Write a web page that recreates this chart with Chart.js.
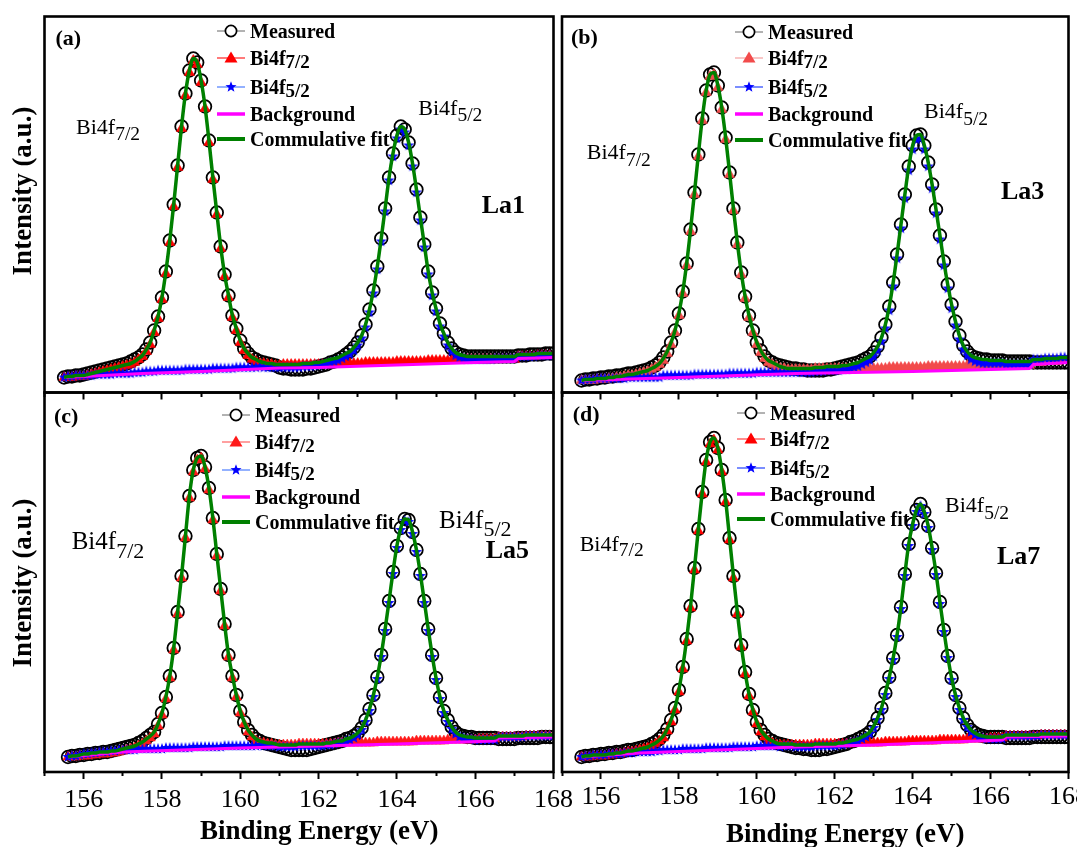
<!DOCTYPE html>
<html><head><meta charset="utf-8">
<script src="https://cdn.jsdelivr.net/npm/chart.js@4.4.1/dist/chart.umd.min.js"></script>
<style>
html,body{margin:0;padding:0;background:#fff;}
body{width:1077px;height:847px;overflow:hidden;position:relative;font-family:'Liberation Serif','Times New Roman',serif;color:#000;}
canvas{position:absolute;}
.t{position:absolute;white-space:nowrap;line-height:1;}
.b{font-weight:bold;}
.sub{position:relative;}
</style></head><body>
<canvas id="ca"></canvas><canvas id="cb"></canvas><canvas id="cc"></canvas><canvas id="cd"></canvas>
<script>
// ---------- DATA (intensity in a.u.) ----------
const energy = [155.5,155.6,155.7,155.8,155.9,
156,156.1,156.2,156.3,156.4,156.5,156.6,156.7,156.8,156.9,
157,157.1,157.2,157.3,157.4,157.5,157.6,157.7,157.8,157.9,
158,158.1,158.2,158.3,158.4,158.5,158.6,158.7,158.8,158.9,
159,159.1,159.2,159.3,159.4,159.5,159.6,159.7,159.8,159.9,
160,160.1,160.2,160.3,160.4,160.5,160.6,160.7,160.8,160.9,
161,161.1,161.2,161.3,161.4,161.5,161.6,161.7,161.8,161.9,
162,162.1,162.2,162.3,162.4,162.5,162.6,162.7,162.8,162.9,
163,163.1,163.2,163.3,163.4,163.5,163.6,163.7,163.8,163.9,
164,164.1,164.2,164.3,164.4,164.5,164.6,164.7,164.8,164.9,
165,165.1,165.2,165.3,165.4,165.5,165.6,165.7,165.8,165.9,
166,166.1,166.2,166.3,166.4,166.5,166.6,166.7,166.8,166.9,
167,167.1,167.2,167.3,167.4,167.5,167.6,167.7,167.8,167.9,
168];
const xTicks = [156,158,160,162,164,166,168];

// (a) La1
const measA = [15,16,16,17,17,18,19,20,21,22,23,24,25,26,27,28,29,31,33,35,38,43,50,62,76,
95,121,152,188,227,266,299,322,334,330,312,286,252,215,180,146,118,97,77,64,
52,44,39,35,33,31,30,29,28,27,25,24,24,23,23,23,23,24,24,25,26,27,28,30,31,33,35,38,41,45,
50,57,68,83,102,126,154,184,215,239,257,266,263,250,229,203,175,148,121,100,
84,69,59,50,44,40,38,37,36,36,36,36,36,36,36,36,36,36,36,36,36,37,37,37,38,38,38,38,39,39,39];
const fitA = [15,16,16,17,17,17,18,19,20,21,22,23,24,25,26,27,28,29,31,34,37,43,50,62,76,
95,121,152,188,227,266,299,322,334,330,312,286,252,215,180,146,118,97,77,64,
52,44,39,35,33,31,30,29,29,28,28,28,28,28,28,28,29,29,29,30,30,31,32,33,34,35,37,39,41,45,
50,57,68,83,102,126,154,184,215,239,257,266,263,250,229,203,175,148,121,100,
84,69,59,50,44,40,38,37,36,36,36,36,36,36,36,36,36,36,36,36,36,38,38,38,38,38,39,39,39,39,39];
const p72A = [15,15,15,16,16,16,17,18,19,20,21,22,23,24,25,26,27,28,30,33,36,41,48,60,74,
93,119,150,186,225,264,297,320,332,328,310,284,250,213,178,144,116,95,75,62,
50,42,37,33,31,29,29,28,28,27,27,28,28,28,28,28,28,28,28,28,28,28,28,28,29,29,29,29,29,29,
29,29,30,30,30,30,30,30,30,30,31,31,31,31,31,31,31,31,32,32,
32,32,32,32,32,32,33,33,33,33,33,33,33,33,33,33,33,33,33,33,33,36,36,36,36,36,37,37,37,37,37];
const p52A = [15,16,16,17,17,17,17,17,18,18,18,18,18,19,19,19,19,19,20,20,20,21,21,21,22,
22,22,22,22,22,22,23,23,23,23,23,23,23,24,24,24,24,24,24,25,
25,25,25,25,25,26,25,25,25,25,25,25,25,25,25,25,26,26,26,27,27,28,29,30,31,32,34,36,38,42,
47,54,65,80,99,123,151,181,212,236,254,263,260,247,226,200,172,145,118,97,
81,66,56,47,41,37,35,34,33,33,33,33,33,33,33,34,34,34,34,34,34,36,36,36,36,36,37,37,37,37,37];
const bgEA = [155.5,157.5,159,161,162,166,167,167.1,168];
const bgA  = [15,19,21,24.5,25,30,31,34,35];

// (b) La3
const measB = [12,13,13,14,14,15,15,16,16,17,17,18,19,19,20,21,22,23,25,27,30,35,41,50,62,
79,101,129,163,200,238,274,302,318,320,307,285,255,220,184,150,120,96,77,62,
50,42,36,32,30,28,27,26,25,24,24,23,23,22,22,22,22,22,23,23,24,25,26,27,28,29,30,32,34,36,
40,46,55,68,86,110,138,168,198,226,247,257,258,247,230,208,183,157,131,108,
88,71,57,47,41,37,35,34,33,33,32,32,32,32,31,31,31,31,31,31,31,30,30,30,30,30,30,30,30,30,30];
const fitB = [12,13,13,13,14,14,14,15,15,16,16,17,18,18,19,20,21,22,24,26,29,34,41,50,62,
79,101,129,163,200,238,274,302,318,320,307,285,255,220,184,150,120,96,77,62,
50,42,36,32,30,28,26,25,24,24,24,24,24,24,24,25,25,25,26,26,26,26,27,27,28,29,30,32,34,36,
40,46,55,68,86,110,138,168,198,226,247,257,258,247,230,208,183,157,131,108,
88,71,57,47,41,37,35,34,33,33,32,32,32,32,31,31,31,31,31,31,31,33,33,33,34,34,34,34,35,35,35];
const p72B = [12,12,12,12,13,13,13,14,14,15,15,16,17,17,18,19,20,21,23,25,28,32,39,48,60,
77,99,127,161,198,236,272,300,316,318,305,283,253,218,182,148,118,94,75,60,
48,40,34,30,28,26,24,24,23,23,23,23,23,23,23,24,24,24,24,24,24,24,24,24,24,24,24,24,24,24,
24,24,24,24,25,25,25,25,25,25,25,25,25,25,26,26,26,26,26,26,
26,26,26,26,27,27,27,27,27,27,26,26,26,26,27,27,27,27,27,27,27,30,30,30,31,31,31,31,32,32,32];
const p52B = [12,13,13,13,14,14,14,14,14,14,14,14,15,15,15,15,15,15,15,15,15,17,17,17,17,
17,17,17,17,18,18,18,18,18,18,18,18,18,19,19,19,19,19,19,19,
20,20,20,20,20,20,20,20,20,20,20,20,20,20,20,21,21,21,22,22,22,22,23,23,24,25,26,28,30,32,
36,42,51,64,82,106,134,164,194,222,243,253,254,243,226,204,179,153,127,104,
84,67,53,43,37,33,31,30,29,29,29,29,29,29,28,28,28,28,28,28,28,33,33,33,34,34,34,34,35,35,35];
const bgEB = [155.5,158,161,164,167,167.1,168];
const bgB  = [12,15,19,21,24,28,30];

// (c) La5
const measC = [null,15,16,16,17,17,18,18,19,19,20,20,21,22,23,24,25,26,27,29,31,34,37,40,48,
59,75,96,124,160,196,236,276,302,314,316,305,284,254,218,183,148,117,96,77,
61,50,42,37,33,31,29,28,27,26,25,24,23,22,22,22,22,22,23,24,25,26,27,28,29,30,31,33,34,36,
39,44,52,63,77,95,117,143,171,200,226,244,253,252,240,222,198,171,143,117,
94,75,61,52,45,40,37,36,35,35,34,34,34,34,34,34,33,33,33,33,33,34,34,34,34,34,34,35,35,35,35];
const fitC = [null,15,16,16,17,18,18,19,19,20,20,20,21,21,22,23,24,25,26,28,30,33,36,40,48,
59,75,96,124,160,196,236,276,302,314,316,305,284,254,218,183,148,117,96,77,
61,50,42,37,33,31,30,29,29,28,27,27,27,27,27,28,28,28,28,28,28,28,29,29,30,31,31,33,34,36,
39,44,52,63,77,95,117,143,171,200,226,244,253,252,240,222,198,171,143,117,
94,75,61,52,45,40,37,36,35,35,34,34,34,34,34,34,36,36,36,36,36,36,36,37,37,37,37,37,37,37,37];
const p72C = [null,15,15,15,16,16,16,17,17,18,18,18,19,19,20,21,22,23,24,26,28,31,34,38,46,
57,73,94,122,158,194,234,274,300,312,314,303,282,252,216,181,146,115,94,75,
59,48,40,35,31,29,29,28,28,27,27,27,27,27,27,28,28,28,28,28,28,28,28,28,28,29,29,29,29,29,
29,29,29,29,29,30,30,30,30,30,30,30,30,30,30,31,31,31,31,31,
31,31,31,32,32,32,32,32,32,32,32,33,33,33,33,33,35,35,35,35,35,35,35,36,36,36,36,36,36,36,36];
const p52C = [null,15,16,16,17,18,18,19,19,20,20,20,21,21,22,22,22,22,22,23,23,23,23,23,23,
23,24,24,24,24,24,24,24,25,25,25,25,25,25,25,25,26,26,26,26,
26,26,26,26,26,27,26,26,26,26,25,25,25,25,25,26,26,26,26,26,26,26,27,27,28,29,29,31,32,34,
37,42,50,61,75,93,115,141,169,198,224,242,251,250,238,220,196,169,141,115,
92,73,59,50,43,38,35,34,33,33,32,32,32,32,32,32,35,35,35,35,35,35,35,36,36,36,36,36,36,36,36];
const bgEC = [155.6,157,160,162,164,166.5,166.6,168];
const bgC  = [15,20,24,26,28,31,34,35];

// (d) La7
const measD = [15,16,16,17,17,18,18,19,19,20,20,21,22,22,23,24,25,26,28,30,33,37,43,52,64,
82,105,133,166,204,243,280,312,330,334,324,302,272,234,196,160,127,100,78,62,
50,42,37,33,31,29,28,27,26,25,24,24,23,23,22,22,22,23,23,24,25,26,27,28,30,31,33,35,37,40,
46,54,64,79,95,114,137,165,198,228,248,262,268,260,246,224,199,170,142,116,
94,77,64,54,47,42,39,37,36,35,35,35,35,35,34,34,34,34,34,34,34,35,35,35,35,35,35,35,35,35,35];
const fitD = [15,16,16,17,17,17,17,18,18,19,19,20,21,21,22,23,24,25,27,29,32,36,43,52,64,
82,105,133,166,204,243,280,312,330,334,324,302,272,234,196,160,127,100,78,62,
50,42,37,33,31,29,28,28,28,28,27,27,27,27,27,28,28,28,28,28,28,29,29,30,31,32,33,35,37,40,
46,54,64,79,95,114,137,165,198,228,248,262,268,260,246,224,199,170,142,116,
94,77,64,54,47,42,39,37,36,35,35,35,35,35,37,37,37,37,37,37,37,37,37,38,38,38,38,38,38,38,38];
const p72D = [15,15,15,16,16,16,16,17,17,18,18,19,20,20,21,22,23,24,26,28,31,34,41,50,62,
80,103,131,164,202,241,278,310,328,332,322,300,270,232,194,158,125,98,76,60,
48,40,35,31,29,27,27,27,27,27,27,27,27,27,27,28,28,28,28,28,28,28,28,28,28,29,29,29,29,29,
29,29,29,30,30,30,30,30,30,31,31,31,31,31,31,31,31,32,32,32,
32,32,32,32,33,33,33,33,33,33,34,34,34,34,36,36,36,36,36,36,36,36,36,37,37,37,37,37,37,37,37];
const p52D = [15,16,16,17,17,17,17,18,18,18,18,19,19,19,20,20,20,20,20,21,21,22,22,22,22,
22,23,23,23,23,23,23,24,24,24,24,24,24,24,25,25,25,25,25,25,
26,26,26,26,26,26,25,26,26,26,25,25,25,25,25,26,26,26,26,26,26,27,27,28,29,30,31,33,35,38,
44,52,62,77,93,112,135,163,196,226,246,260,266,258,244,222,197,168,140,114,
92,75,62,52,45,40,37,35,34,33,33,33,33,33,36,36,36,36,36,36,36,36,36,37,37,37,37,37,37,37,37];
const bgED = [155.5,157,159,161,163,165,166.3,166.4,168];
const bgD  = [15,19,22,25,27,30,32,35,36];

// ---------- RENDERING ----------
Chart.defaults.font.family = "'Liberation Serif','Times New Roman',serif";

function starCanvas(color, R, r) {
  const s = Math.ceil(R * 2) + 2;
  const c = document.createElement('canvas'); c.width = s; c.height = s;
  const g = c.getContext('2d'); g.fillStyle = color; g.beginPath();
  for (let k = 0; k < 10; k++) {
    const a = -Math.PI / 2 + k * Math.PI / 5, rad = (k % 2) ? r : R;
    g.lineTo(s / 2 + rad * Math.cos(a), s / 2 + rad * Math.sin(a));
  }
  g.closePath(); g.fill(); return c;
}
const starImg = starCanvas('#0000ff', 5.9, 2.4);

const framePlugin = {
  id: 'frame',
  afterDatasetsDraw(chart) {
    const { ctx, chartArea: a } = chart;
    ctx.save(); ctx.strokeStyle = '#000'; ctx.lineWidth = 2.6;
    ctx.strokeRect(a.left, a.top, a.right - a.left, a.bottom - a.top);
    ctx.restore();
  }
};

function pts(xs, ys) { return xs.map((x, i) => ({ x: x, y: ys[i] })); }

function makePanel(p) {
  const cv = document.getElementById(p.id);
  cv.width = p.cw; cv.height = p.ch;
  cv.style.left = p.cx + 'px'; cv.style.top = p.cy + 'px';
  const pad = { left: p.L - p.cx, top: p.T - p.cy, right: p.cx + p.cw - p.R, bottom: p.cy + p.ch - p.B - p.axisH };
  new Chart(cv, {
    type: 'line',
    data: { datasets: [
      { label: 'Commulative fit', data: pts(energy, p.fit), borderColor: '#008000', borderWidth: 3.5, pointRadius: 0, cubicInterpolationMode: 'monotone', order: 0 },
      { label: 'Background', data: pts(p.bgE, p.bg), borderColor: '#ff00ff', borderWidth: 3, pointRadius: 0, tension: 0, order: 1 },
      { label: 'Bi4f5/2', data: pts(energy, p.p52), borderColor: '#0000ff', borderWidth: 1, pointStyle: starImg, pointRadius: 5, order: 2 },
      { label: 'Bi4f7/2', data: pts(energy, p.p72), borderColor: p.red, borderWidth: 1, pointStyle: 'triangle', pointRadius: 6, pointBackgroundColor: p.red, pointBorderColor: p.red, pointBorderWidth: 0.5, order: 3 },
      { label: 'Measured', data: pts(energy, p.meas), showLine: false, pointStyle: 'circle', pointRadius: 6.3, pointBorderWidth: 1.8, pointBorderColor: '#000', pointBackgroundColor: 'rgba(0,0,0,0)', order: 4 }
    ] },
    options: {
      responsive: false, animation: false, devicePixelRatio: 1, events: [],
      layout: { padding: pad, autoPadding: false },
      plugins: { legend: { display: false }, tooltip: { enabled: false } },
      scales: {
        x: {
          type: 'linear', min: 155, max: 168, position: 'bottom',
          border: { display: false },
          grid: { display: true, drawOnChartArea: false, drawTicks: true, tickLength: 7, tickWidth: 2, tickColor: '#000',
            tickBorderDash: (c) => (c.tick && Math.round(c.tick.value) % 2 !== 0) ? [4, 40] : [] },
          ticks: { stepSize: 1, autoSkip: false, maxRotation: 0, minRotation: 0, padding: p.labelPad, color: '#000',
            font: { size: 26 },
            callback: (v) => (p.labels && xTicks.includes(v)) ? String(v) : '' },
          afterFit: (s) => { s.height = p.axisH; s.paddingLeft = 0; s.paddingRight = 0; }
        },
        y: { display: false, min: 0, max: p.ymax }
      }
    },
    plugins: [framePlugin]
  });
}

const panels = [
  { id: 'ca', cx: 0, cy: 0, cw: 560, ch: 420, L: 44.5, T: 16.5, R: 553.5, B: 392.5, axisH: 15, ymax: 376, labels: false, labelPad: 0,
    meas: measA, fit: fitA, p72: p72A, p52: p52A, bgE: bgEA, bg: bgA, red: '#ff0000' },
  { id: 'cb', cx: 556, cy: 0, cw: 521, ch: 420, L: 562, T: 16.5, R: 1068.5, B: 392.5, axisH: 15, ymax: 376, labels: false, labelPad: 0,
    meas: measB, fit: fitB, p72: p72B, p52: p52B, bgE: bgEB, bg: bgB, red: '#f24b4b' },
  { id: 'cc', cx: 0, cy: 380, cw: 580, ch: 467, L: 44.5, T: 392.5, R: 553.5, B: 772, axisH: 75, ymax: 379.5, labels: true, labelPad: 6,
    meas: measC, fit: fitC, p72: p72C, p52: p52C, bgE: bgEC, bg: bgC, red: '#ff1a1a' },
  { id: 'cd', cx: 540, cy: 380, cw: 560, ch: 467, L: 562, T: 392.5, R: 1068.5, B: 772, axisH: 75, ymax: 379.5, labels: true, labelPad: 3,
    meas: measD, fit: fitD, p72: p72D, p52: p52D, bgE: bgED, bg: bgD, red: '#ff0000' }
];
panels.forEach(makePanel);

// ---------- TEXT / LEGENDS ----------
function addText(html, left, baseline, fs, bold) {
  const d = document.createElement('div');
  d.className = 't' + (bold ? ' b' : '');
  d.style.left = left + 'px'; d.style.top = (baseline - 0.8375 * fs) + 'px'; d.style.fontSize = fs + 'px';
  d.innerHTML = html; document.body.appendChild(d); return d;
}
function subLabel(main, sub, left, baseline, fs, sfs, shift) {
  return addText(main + '<span class="sub" style="font-size:' + sfs + 'px;top:' + shift + 'px">' + sub + '</span>', left, baseline, fs, false);
}
function starPath(cx, cy, R, r) {
  let s = '';
  for (let k = 0; k < 10; k++) {
    const a = -Math.PI / 2 + k * Math.PI / 5, rad = (k % 2) ? r : R;
    s += (cx + rad * Math.cos(a)).toFixed(2) + ',' + (cy + rad * Math.sin(a)).toFixed(2) + ' ';
  }
  return s;
}
function addLegend(x0, rows, red, redLine, blueLine) {
  const names = ['Measured', 'Bi4f<span class="sub" style="font-size:19px;top:3px">7/2</span>', 'Bi4f<span class="sub" style="font-size:19px;top:3px">5/2</span>', 'Background', 'Commulative fit'];
  const syms = [
    '<line x1="0" y1="11" x2="28" y2="11" stroke="#666" stroke-width="1"/><circle cx="14" cy="11" r="5.6" fill="#fff" stroke="#000" stroke-width="1.7"/>',
    '<line x1="0" y1="11" x2="28" y2="11" stroke="' + redLine + '" stroke-width="1.2"/><polygon points="14,4.5 20.5,15.5 7.5,15.5" fill="' + red + '"/>',
    '<line x1="0" y1="11" x2="28" y2="11" stroke="' + blueLine + '" stroke-width="1.2"/><polygon points="' + starPath(14, 11, 5.8, 2.4) + '" fill="#0000ff"/>',
    '<line x1="0" y1="11" x2="28" y2="11" stroke="#ff00ff" stroke-width="3.5"/>',
    '<line x1="0" y1="11" x2="28" y2="11" stroke="#008000" stroke-width="4"/>'
  ];
  rows.forEach((yc, i) => {
    const sv = document.createElement('div');
    sv.style.position = 'absolute'; sv.style.left = x0 + 'px'; sv.style.top = (yc - 11) + 'px';
    sv.innerHTML = '<svg width="30" height="22" viewBox="0 0 30 22">' + syms[i] + '</svg>';
    document.body.appendChild(sv);
    const t = document.createElement('div');
    t.className = 't b'; t.style.fontSize = '20px';
    t.style.left = (x0 + 33) + 'px'; t.style.top = (yc - 10) + 'px';
    t.innerHTML = names[i]; document.body.appendChild(t);
  });
}
addLegend(217, [31, 58, 86.5, 114, 138.5], '#ff0000', '#ff2020', '#4a7dff');
addLegend(735, [32.3, 58, 86.7, 114, 140], '#f24b4b', '#f5a0a0', '#2040ff');
addLegend(222, [415, 441.7, 470, 496.7, 521.7], '#ff1a1a', '#ff6060', '#4a7dff');
addLegend(737, [412.7, 439.3, 467.7, 494.3, 519.3], '#ff0000', '#ff4040', '#2040ff');

// panel letters
addText('(a)', 55.5, 45.5, 22, true);
addText('(b)', 571, 44, 22, true);
addText('(c)', 54, 423, 22, true);
addText('(d)', 572.8, 421, 22, true);
// sample names
addText('La1', 481.7, 214, 26, true);
addText('La3', 1001, 199.3, 26, true);
addText('La5', 485.7, 558.3, 26, true);
addText('La7', 997, 565, 26, true);
// peak labels
subLabel('Bi4f', '7/2', 76, 134.3, 22, 19.5, 6.4);
subLabel('Bi4f', '5/2', 418.3, 115, 22, 19.5, 6.7);
subLabel('Bi4f', '7/2', 586.8, 159.3, 22, 19.5, 6.7);
subLabel('Bi4f', '5/2', 924, 118.3, 22, 19.5, 6.7);
subLabel('Bi4f', '7/2', 71.7, 549.3, 25, 22, 9);
subLabel('Bi4f', '5/2', 439, 527.7, 25, 22, 8);
subLabel('Bi4f', '7/2', 579.7, 551, 22, 19.5, 5.7);
subLabel('Bi4f', '5/2', 945, 512.7, 22, 19.5, 6.6);

// axis titles
function yTitle(cx, cy) {
  const d = document.createElement('div');
  d.className = 't b'; d.style.fontSize = '27px';
  d.style.left = cx + 'px'; d.style.top = cy + 'px';
  d.style.transform = 'translate(-50%,-50%) rotate(-90deg)';
  d.textContent = 'Intensity (a.u.)'; document.body.appendChild(d);
}
yTitle(22, 191);
yTitle(22, 583);
addText('Binding Energy (eV)', 200, 840, 27, true);
addText('Binding Energy (eV)', 726, 843, 27, true);
</script>
</body></html>
